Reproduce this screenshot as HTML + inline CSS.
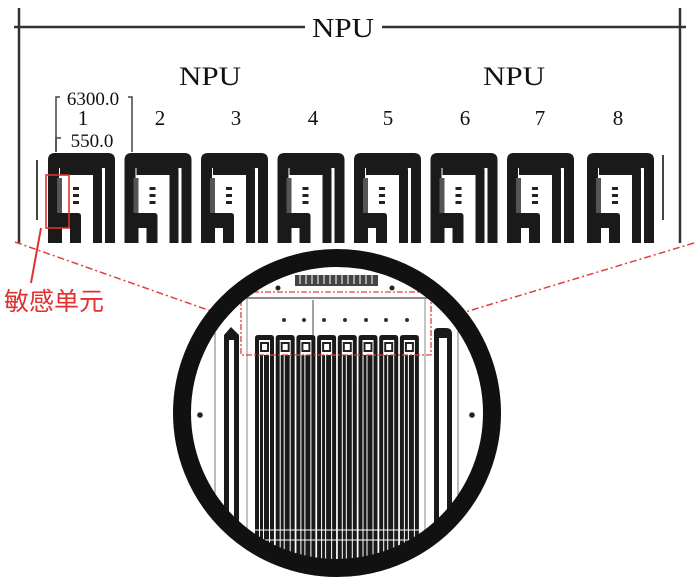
<!DOCTYPE html>
<html><head><meta charset="utf-8"><style>
html,body{margin:0;padding:0;background:#fff;width:700px;height:585px;overflow:hidden}
svg{display:block}
.t{font-family:"Liberation Serif",serif;fill:#111}
</style></head><body>
<svg width="700" height="585" viewBox="0 0 700 585" xmlns="http://www.w3.org/2000/svg">
<defs>
<g id="u">
  <path d="M0,243 V160 Q0,153 7,153 H60 Q67,153 67,160 V243 H57 V168 H11 V243 Z" fill="#1a1a1a"/>
  <path d="M12,165 H49 Q54,165 54,170 V243 H45 V175 H12 Z" fill="#1a1a1a"/>
  <rect x="9" y="178" width="5" height="38" fill="#555"/>
  <path d="M2,243 V216 Q2,213 5,213 H30 Q33,213 33,216 V243 H22 V228 H14 V243 Z" fill="#1a1a1a"/>
  <rect x="25" y="187" width="6" height="3" fill="#222"/>
  <rect x="25" y="194" width="6" height="3" fill="#222"/>
  <rect x="25" y="201" width="6" height="3" fill="#222"/>
</g>
<g id="su">
  <path d="M0,560 V338 Q0,335 3,335 H16 Q19,335 19,338 V560 H15 V340 H4 V560 Z" fill="#1a1a1a"/>
  <rect x="6" y="343" width="7" height="8" fill="none" stroke="#222" stroke-width="2"/>
  <rect x="5" y="355" width="3" height="205" fill="#1a1a1a"/>
  <rect x="9" y="355" width="5" height="205" fill="#1a1a1a"/>
</g>
<clipPath id="c"><circle cx="337" cy="413" r="150"/></clipPath>
</defs>

<line x1="19" y1="8" x2="19" y2="243" stroke="#333" stroke-width="2.5"/>
<line x1="680" y1="8" x2="680" y2="243" stroke="#333" stroke-width="2.5"/>
<line x1="14" y1="27" x2="305" y2="27" stroke="#333" stroke-width="2.5"/>
<line x1="382" y1="27" x2="686" y2="27" stroke="#333" stroke-width="2.5"/>
<text class="t" x="343" y="37" font-size="27" text-anchor="middle" textLength="62" lengthAdjust="spacingAndGlyphs">NPU</text>
<text class="t" x="210" y="85" font-size="26" text-anchor="middle" textLength="62" lengthAdjust="spacingAndGlyphs">NPU</text>
<text class="t" x="514" y="85" font-size="26" text-anchor="middle" textLength="62" lengthAdjust="spacingAndGlyphs">NPU</text>
<text class="t" x="93" y="105" font-size="19" text-anchor="middle">6300.0</text>
<text class="t" x="83" y="125" font-size="21" text-anchor="middle">1</text>
<text class="t" x="92" y="147" font-size="19" text-anchor="middle">550.0</text>
<g font-size="21" text-anchor="middle" class="t">
<text class="t" x="160" y="125">2</text><text class="t" x="236" y="125">3</text><text class="t" x="313" y="125">4</text>
<text class="t" x="388" y="125">5</text><text class="t" x="465" y="125">6</text><text class="t" x="540" y="125">7</text><text class="t" x="618" y="125">8</text>
</g>
<path d="M56,152 V97 H60 M128,97 H132 V152" fill="none" stroke="#444" stroke-width="1.5"/>
<path d="M56,152 V138 H61" fill="none" stroke="#444" stroke-width="1.5"/>
<line x1="37" y1="160" x2="37" y2="220" stroke="#444" stroke-width="2"/>
<line x1="663" y1="155" x2="663" y2="220" stroke="#444" stroke-width="2"/>

<use href="#u" x="48" y="0"/>
<use href="#u" x="124.5" y="0"/>
<use href="#u" x="201" y="0"/>
<use href="#u" x="277.5" y="0"/>
<use href="#u" x="354" y="0"/>
<use href="#u" x="430.5" y="0"/>
<use href="#u" x="507" y="0"/>
<use href="#u" x="587" y="0"/>

<rect x="46" y="175" width="23" height="53" fill="none" stroke="#e03030" stroke-width="1.6"/>
<line x1="41" y1="228" x2="31" y2="283" stroke="#e03030" stroke-width="2"/>
<text x="4" y="310" font-size="25" fill="#e03030" font-family="'Liberation Sans','Noto Sans CJK SC',sans-serif">敏感单元</text>
<line x1="15" y1="242" x2="242" y2="322" stroke="#e04040" stroke-width="1.5" stroke-dasharray="7,3,2,3"/>
<line x1="694" y1="243" x2="432" y2="322" stroke="#e04040" stroke-width="1.5" stroke-dasharray="7,3,2,3"/>

<g clip-path="url(#c)">
  <rect x="170" y="250" width="340" height="340" fill="#fff"/>
  <rect x="295" y="275" width="83" height="11" fill="#444"/>
  <g stroke="#fff" stroke-width="1"><line x1="300" y1="275" x2="300" y2="284"/><line x1="306" y1="275" x2="306" y2="284"/><line x1="312" y1="275" x2="312" y2="284"/><line x1="318" y1="275" x2="318" y2="284"/><line x1="324" y1="275" x2="324" y2="284"/><line x1="330" y1="275" x2="330" y2="284"/><line x1="336" y1="275" x2="336" y2="284"/><line x1="342" y1="275" x2="342" y2="284"/><line x1="348" y1="275" x2="348" y2="284"/><line x1="354" y1="275" x2="354" y2="284"/><line x1="360" y1="275" x2="360" y2="284"/><line x1="366" y1="275" x2="366" y2="284"/><line x1="372" y1="275" x2="372" y2="284"/></g>
  <circle cx="278" cy="288" r="2.5" fill="#222"/><circle cx="392" cy="288" r="2.5" fill="#222"/>
  <line x1="247" y1="298" x2="428" y2="298" stroke="#666" stroke-width="1.5"/>
  <line x1="247" y1="298" x2="247" y2="530" stroke="#888" stroke-width="1"/>
  <line x1="425" y1="298" x2="425" y2="530" stroke="#888" stroke-width="1"/>
  <g fill="#333"><circle cx="284" cy="320" r="2"/><circle cx="304" cy="320" r="2"/><circle cx="324" cy="320" r="2"/><circle cx="345" cy="320" r="2"/><circle cx="366" cy="320" r="2"/><circle cx="386" cy="320" r="2"/><circle cx="407" cy="320" r="2"/></g>
  <line x1="313" y1="300" x2="313" y2="335" stroke="#444" stroke-width="1"/>
  <use href="#su" x="255" y="0"/><use href="#su" x="275.7" y="0"/><use href="#su" x="296.4" y="0"/><use href="#su" x="317.1" y="0"/>
  <use href="#su" x="337.8" y="0"/><use href="#su" x="358.5" y="0"/><use href="#su" x="379.2" y="0"/><use href="#su" x="399.9" y="0"/>
  <path d="M224,560 V335 L231,327 L239,335 V560 H234 V340 H229 V560 Z" fill="#1a1a1a"/>
  <path d="M434,560 V332 Q434,328 438,328 H446 Q452,328 452,334 V560 H447 V338 H439 V560 Z" fill="#1a1a1a"/>
  <line x1="215" y1="330" x2="215" y2="570" stroke="#777" stroke-width="1"/>
  <line x1="458" y1="330" x2="458" y2="570" stroke="#777" stroke-width="1"/>
  <circle cx="200" cy="415" r="2.8" fill="#222"/><circle cx="472" cy="415" r="2.8" fill="#222"/>
  <line x1="255" y1="530" x2="420" y2="530" stroke="#fff" stroke-width="1"/>
  <line x1="255" y1="540" x2="420" y2="540" stroke="#fff" stroke-width="1"/>
</g>
<rect x="241" y="292" width="190" height="63" fill="none" stroke="#e04040" stroke-width="1.3" stroke-dasharray="6,2,2,2"/>
<circle cx="337" cy="413" r="155" fill="none" stroke="#111" stroke-width="18"/>
</svg>
</body></html>
